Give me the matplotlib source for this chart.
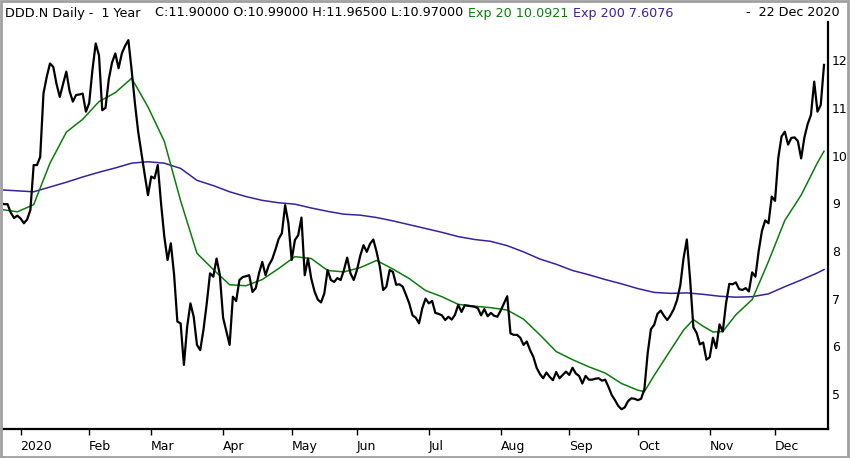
import numpy as np
import pandas as pd
import matplotlib
matplotlib.use("Agg")
import matplotlib.pyplot as plt
from matplotlib.patches import Rectangle

# daily closes, DDD.N, 23 Dec 2019 .. 22 Dec 2020
closes = [
    9.00, 8.98, 8.98, 8.80, 8.69, 8.74, 8.68, 8.58, 8.66, 8.86,
    9.80, 9.80, 9.97, 11.30, 11.65, 11.93, 11.86, 11.50, 11.23, 11.50,
    11.76, 11.35, 11.13, 11.27, 11.28, 11.30, 10.92, 11.10, 11.80, 12.35,
    12.10, 10.95, 11.00, 11.60, 11.95, 12.14, 11.83, 12.14, 12.30, 12.42,
    11.79, 11.10, 10.50, 10.05, 9.60, 9.17, 9.56, 9.52, 9.80, 9.00,
    8.30, 7.81, 8.16, 7.50, 6.52, 6.48, 5.61, 6.41, 6.90, 6.62,
    6.03, 5.92, 6.35, 6.90, 7.53, 7.46, 7.84, 7.50, 6.60, 6.31,
    6.03, 7.04, 6.95, 7.39, 7.45, 7.47, 7.49, 7.14, 7.22, 7.53,
    7.77, 7.49, 7.70, 7.82, 8.02, 8.25, 8.37, 8.96, 8.58, 7.81,
    8.23, 8.33, 8.70, 7.49, 7.84, 7.42, 7.15, 6.98, 6.92, 7.11,
    7.60, 7.39, 7.35, 7.43, 7.39, 7.60, 7.86, 7.53, 7.39, 7.60,
    7.90, 8.12, 7.98, 8.15, 8.24, 7.98, 7.67, 7.18, 7.25, 7.60,
    7.56, 7.29, 7.30, 7.25, 7.08, 6.90, 6.65, 6.60, 6.48, 6.80,
    7.00, 6.90, 6.95, 6.70, 6.68, 6.65, 6.55, 6.62, 6.56, 6.66,
    6.87, 6.72, 6.86, 6.85, 6.84, 6.83, 6.80, 6.65, 6.78, 6.63,
    6.70, 6.64, 6.62, 6.75, 6.90, 7.05, 6.27, 6.24, 6.24, 6.18,
    6.03, 6.10, 5.92, 5.78, 5.55, 5.42, 5.33, 5.45, 5.36, 5.29,
    5.46, 5.33, 5.40, 5.47, 5.40, 5.55, 5.43, 5.38, 5.22, 5.38,
    5.30, 5.30, 5.32, 5.33, 5.28, 5.30, 5.15, 4.98, 4.87, 4.75,
    4.68, 4.72, 4.85, 4.91, 4.90, 4.87, 4.90, 5.10, 5.85, 6.36,
    6.45, 6.68, 6.75, 6.64, 6.55, 6.65, 6.78, 6.97, 7.28, 7.85,
    8.24, 7.40, 6.40, 6.28, 6.04, 6.08, 5.72, 5.77, 6.18, 5.96,
    6.46, 6.31, 6.90, 7.31, 7.30, 7.34, 7.20, 7.18, 7.22, 7.15,
    7.55, 7.46, 8.00, 8.42, 8.64, 8.58, 9.14, 9.05, 9.95, 10.40,
    10.50, 10.23, 10.37, 10.38, 10.30, 9.94, 10.38, 10.66, 10.85, 11.55,
    10.92, 11.06, 11.90,
]

# moving averages (trading-day index, value)
ema20_idx = [0, 5, 10, 15, 20, 25, 30, 35, 40, 45, 50, 55, 60, 65, 70, 75,
             80, 85, 90, 95, 100, 105, 110, 115, 120, 125, 130, 135, 140, 145,
             150, 155, 160, 165, 170, 175, 180, 185, 190, 195, 197, 200, 205,
             209, 212, 215, 218, 221, 225, 230, 235, 240, 245, 250, 252]
ema20 = [8.87, 8.82, 8.97, 9.84, 10.49, 10.76, 11.13, 11.32, 11.62, 11.02,
         10.30, 9.05, 7.95, 7.61, 7.29, 7.27, 7.40, 7.63, 7.88, 7.84, 7.59,
         7.56, 7.65, 7.80, 7.62, 7.42, 7.17, 7.04, 6.88, 6.84, 6.81, 6.76,
         6.57, 6.24, 5.89, 5.72, 5.57, 5.44, 5.22, 5.08, 5.05, 5.39, 5.92,
         6.34, 6.56, 6.42, 6.30, 6.31, 6.66, 6.98, 7.78, 8.64, 9.17, 9.85,
         10.09]
ema200_idx = [0, 5, 10, 15, 20, 25, 30, 35, 40, 45, 50, 55, 60, 65, 70, 75,
              80, 85, 90, 95, 100, 105, 110, 115, 120, 125, 130, 135, 140, 145,
              150, 155, 160, 165, 170, 175, 180, 185, 190, 195, 200, 205, 210,
              215, 220, 225, 230, 235, 240, 245, 250, 252]
ema200 = [9.28, 9.26, 9.24, 9.34, 9.44, 9.55, 9.65, 9.74, 9.84, 9.87, 9.84,
          9.73, 9.48, 9.37, 9.24, 9.14, 9.06, 9.01, 8.98, 8.90, 8.83, 8.77,
          8.75, 8.70, 8.63, 8.55, 8.47, 8.39, 8.30, 8.24, 8.20, 8.11, 7.98,
          7.83, 7.72, 7.59, 7.50, 7.40, 7.31, 7.21, 7.13, 7.11, 7.12, 7.09,
          7.05, 7.03, 7.04, 7.10, 7.25, 7.39, 7.54, 7.61]

holidays = ['2019-12-25', '2020-01-01', '2020-01-20', '2020-02-17', '2020-04-10',
            '2020-05-25', '2020-07-03', '2020-09-07', '2020-11-26']
month_names = ['2020', 'Feb', 'Mar', 'Apr', 'May', 'Jun', 'Jul', 'Aug',
               'Sep', 'Oct', 'Nov', 'Dec']
yticks = [5, 6, 7, 8, 9, 10, 11, 12]

dates = pd.bdate_range('2019-12-23', '2020-12-22')
dates = dates[~dates.isin(pd.to_datetime(holidays))]
x = np.arange(len(closes))

# first trading day of each month of 2020
month_pos = []
for m in range(1, 13):
    hits = np.where((dates.year == 2020) & (dates.month == m))[0]
    month_pos.append(hits[0])

GREEN = '#0a7d0a'
PURPLE = '#3d1f9c'

W, H = 850, 458
fig = plt.figure(figsize=(W / 100, H / 100), dpi=100)
ax = fig.add_axes([3 / W, (H - 429) / H, (827.6 - 3) / W, (429 - 22) / H])

ax.plot(ema200_idx, ema200, color=PURPLE, lw=1.1)
ax.plot(ema20_idx, ema20, color=GREEN, lw=1.1)
ax.plot(x, closes, color='black', lw=1.6)

ax.set_xlim(0.61, 253.1)
ax.set_ylim(4.266, 12.80)

for s in ['left', 'top']:
    ax.spines[s].set_visible(False)
for s in ['right', 'bottom']:
    ax.spines[s].set_linewidth(1.6)
    ax.spines[s].set_color('black')

ax.yaxis.tick_right()
ax.set_yticks(yticks)
ax.set_yticklabels([str(v) for v in yticks])
ax.tick_params(axis='y', length=0, pad=3, labelsize=9)

ax.set_xticks(month_pos)
ax.set_xticklabels(month_names, ha='left')
ax.tick_params(axis='x', direction='out', length=4.5, width=1.0, pad=3.5,
               labelsize=9)

# header line
fy = 1 - 13 / H
fs = 9.2
fig.text(5 / W, fy, 'DDD.N Daily -  1 Year', fontsize=fs, va='center')
fig.text(155 / W, fy, 'C:11.90000 O:10.99000 H:11.96500 L:10.97000',
         fontsize=fs, va='center')
fig.text(468 / W, fy, 'Exp 20 10.0921', fontsize=fs, va='center', color=GREEN)
fig.text(573 / W, fy, 'Exp 200 7.6076', fontsize=fs, va='center', color=PURPLE)
fig.text(840 / W, fy, '-  22 Dec 2020', fontsize=fs, va='center', ha='right')

# outer frame
fig.patches.append(Rectangle((0.001, 0.002), 0.997, 0.996, transform=fig.transFigure,
                             fill=False, edgecolor='#a0a0a0', lw=2))

fig.savefig('out.png', dpi=100)
